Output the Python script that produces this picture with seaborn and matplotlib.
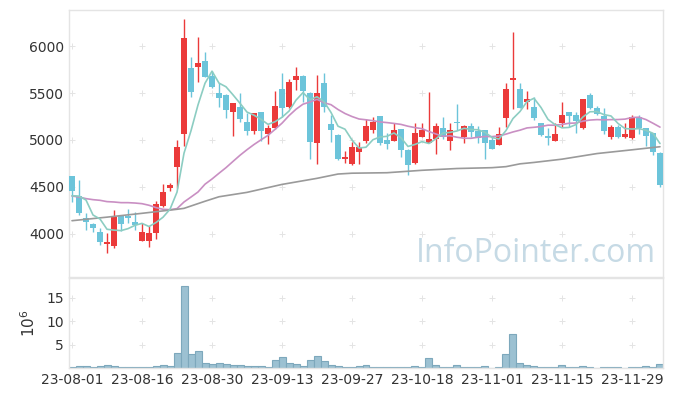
import numpy as np
import pandas as pd
import matplotlib
matplotlib.use("Agg")
import matplotlib.pyplot as plt
import seaborn as sns

# daily prices (trading days 23-08-01 .. 23-12-05)
opens = [4615, 4401, 4162, 4101, 4012, 3887, 3866, 4187, 4187, 4126,
         3923, 3923, 4002, 4297, 4490, 4714, 5064, 5770, 5784, 5845,
         5685, 5500, 5482, 5303, 5350, 5189, 5100, 5296, 5064, 5125,
         5542, 5350, 5642, 5685, 5500, 4971, 5613, 5171, 5054, 4800,
         4740, 4875, 4993, 5107, 5257, 5000, 4993, 5114, 4893, 4751,
         5036, 4971, 5007, 5125, 4993, 5196, 5036, 5150, 5100, 5107,
         5000, 4950, 5232, 5642, 5542, 5410, 5350, 5179, 5043, 4993,
         5179, 5296, 5268, 5125, 5482, 5339, 5257, 5036, 5136, 5029,
         5018, 5249, 5125, 5072, 4858]
highs = [4620, 4572, 4219, 4115, 4055, 4002, 4251, 4190, 4258, 4233,
         4115, 4080, 4347, 4526, 4543, 5000, 6291, 5891, 6099, 5938,
         5742, 5607, 5490, 5400, 5500, 5286, 5290, 5300, 5160, 5528,
         5714, 5653, 5778, 5690, 5517, 5696, 5714, 5268, 5060, 4886,
         4982, 4982, 5221, 5243, 5260, 5072, 5185, 5120, 4900, 5179,
         5185, 5514, 5179, 5249, 5179, 5385, 5160, 5185, 5150, 5110,
         5036, 5136, 5607, 6159, 5613, 5528, 5463, 5185, 5125, 5179,
         5410, 5300, 5296, 5440, 5500, 5364, 5339, 5160, 5160, 5179,
         5268, 5268, 5130, 5080, 4870]
lows = [4340, 4198, 4037, 4013, 3876, 3788, 3841, 4030, 4115, 4037,
        3915, 3852, 3937, 4280, 4458, 4483, 4939, 5457, 5624, 5670,
        5560, 5356, 5232, 5043, 5189, 5054, 5064, 4993, 4957, 5120,
        5249, 5345, 5535, 5410, 4793, 4743, 5303, 4982, 4785, 4751,
        4735, 4743, 4965, 5072, 4950, 4900, 4990, 4821, 4626, 4745,
        5030, 4965, 4850, 5007, 4893, 5107, 4965, 5036, 4965, 4793,
        4900, 4945, 5143, 5328, 5340, 5328, 5214, 5043, 4946, 4990,
        5143, 5143, 5072, 5120, 5335, 5270, 5064, 5007, 5018, 5025,
        5010, 5064, 4936, 4840, 4494]
closes = [4458, 4222, 4126, 4058, 3912, 3909, 4176, 4101, 4162, 4091,
          4012, 4008, 4315, 4444, 4519, 4925, 6091, 5517, 5824, 5677,
          5570, 5453, 5321, 5393, 5225, 5100, 5286, 5100, 5125, 5364,
          5339, 5617, 5685, 5528, 4982, 5500, 5356, 5107, 4793, 4821,
          4922, 4928, 5150, 5196, 4965, 4957, 5107, 4893, 4733, 5072,
          5107, 5007, 5150, 5036, 5107, 5182, 5150, 5089, 5018, 4971,
          4907, 5064, 5546, 5660, 5346, 5439, 5239, 5054, 5025, 5064,
          5268, 5261, 5207, 5435, 5339, 5275, 5100, 5136, 5036, 5064,
          5249, 5125, 5043, 4876, 4519]
# volume in millions
volumes = [0.3, 0.5, 0.5, 0.3, 0.5, 0.7, 0.5, 0.3, 0.3, 0.3,
           0.3, 0.3, 0.5, 0.7, 0.5, 3.3, 17.5, 2.9, 3.7, 1.15,
           0.85, 1.15, 0.9, 0.7, 0.7, 0.5, 0.5, 0.5, 0.3, 1.8,
           2.4, 1.15, 0.9, 0.5, 1.8, 2.6, 1.6, 0.7, 0.5, 0.3,
           0.3, 0.5, 0.7, 0.3, 0.3, 0.3, 0.3, 0.3, 0.3, 0.5,
           0.3, 2.2, 0.7, 0.3, 0.3, 0.7, 0.3, 0.3, 0.3, 0.5,
           0.1, 0.3, 2.9, 7.2, 1.15, 0.7, 0.5, 0.3, 0.3, 0.3,
           0.7, 0.3, 0.3, 0.5, 0.3, 0.1, 0.3, 0.3, 0.3, 0.1,
           0.3, 0.3, 0.5, 0.3, 0.9]

# moving averages before enough days are in the window
ma5_head = [4404, 4400, 4358, 4198]
ma20_head = [4401, 4390, 4373, 4362, 4355, 4341, 4337, 4330, 4330, 4326,
             4319, 4302, 4277, 4259, 4255, 4266, 4337, 4390, 4444]
# 60-day average (at these days)
ma60_days = [0, 5, 10, 15, 16, 19, 21, 25, 30, 35, 38, 40, 45, 50, 55, 60,
             62, 64, 66, 70, 75, 80, 84]
ma60_vals = [4137, 4175, 4216, 4259, 4269, 4345, 4393, 4440, 4525, 4590,
             4636, 4645, 4650, 4676, 4695, 4704, 4715, 4745, 4760, 4795,
             4855, 4895, 4928]

tick_days = [0, 10, 20, 30, 40, 50, 60, 70, 80]
tick_labels = ['23-08-01', '23-08-16', '23-08-30', '23-09-13', '23-09-27',
               '23-10-18', '23-11-01', '23-11-15', '23-11-29']

UP = '#eb3a3a'
DOWN = '#6cc4da'
FRAME = '#e4e4e4'


def plus_grid(ax, xs, ys):
    gx, gy = np.meshgrid(xs, ys)
    ax.scatter(gx.ravel(), gy.ravel(), marker='+', s=20, linewidths=0.7,
               color='#e4e4e4', zorder=0)


def style_axis(ax):
    for s in ax.spines.values():
        s.set_color(FRAME)
        s.set_linewidth(1)
    ax.tick_params(length=0, labelsize=10, colors='#333333')


def price_panel(ax, df):
    up = df['close'] >= df['open']
    for mask, col in [(up, UP), (~up, DOWN)]:
        d = df[mask]
        ax.vlines(d['day'], d['low'], d['high'], color=col, linewidth=1, zorder=2)
        body = (d['close'] - d['open']).abs().clip(lower=8)
        ax.bar(d['day'], body, bottom=d[['open', 'close']].min(axis=1),
               width=0.72, color=col, linewidth=0, zorder=3)

    close = df['close']
    ma5 = close.rolling(5).mean()
    ma5.iloc[:4] = ma5_head
    ma20 = close.rolling(20).mean()
    ma20.iloc[:19] = ma20_head
    ma = pd.DataFrame({'day': df['day'], 'ma5': ma5, 'ma20': ma20})
    sns.lineplot(data=ma, x='day', y='ma20', ax=ax, color='#c98fc3', linewidth=1.2, zorder=4)
    sns.lineplot(x=ma60_days, y=ma60_vals, ax=ax, color='#9a9a9a', linewidth=1.2, zorder=4)
    sns.lineplot(data=ma, x='day', y='ma5', ax=ax, color='#8ccdc2', linewidth=1.2, zorder=5)

    ax.set_xlim(-0.43, 84.43)
    ax.set_ylim(3535, 6390)
    yt = [4000, 4500, 5000, 5500, 6000]
    ax.set_yticks(yt)
    ax.set_xticks(tick_days)
    ax.set_xticklabels([])
    plus_grid(ax, tick_days, yt)
    ax.set_xlabel('')
    ax.set_ylabel('')
    ax.text(0.988, 0.025, 'InfoPointer.com', transform=ax.transAxes,
            ha='right', va='bottom', fontsize=23, color='#c6dae5',
            family='Open Sans', zorder=1)
    style_axis(ax)


def volume_panel(ax, df):
    sns.barplot(data=df, x='day', y='volume', native_scale=True, width=1.0,
                color='#9cc1d2', edgecolor='#7da8bc', linewidth=0.8,
                saturation=1, ax=ax, zorder=2)
    ax.set_xlim(-0.43, 84.43)
    ax.set_ylim(0, 19.2)
    yt = [5, 10, 15]
    ax.set_yticks(yt)
    ax.set_xticks(tick_days)
    ax.set_xticklabels(tick_labels)
    plus_grid(ax, tick_days, yt)
    ax.set_xlabel('')
    ax.set_ylabel('$10^6$', fontsize=11, color='#333333', labelpad=6)
    style_axis(ax)


def stock_chart():
    df = pd.DataFrame({'day': np.arange(len(closes)), 'open': opens,
                       'high': highs, 'low': lows, 'close': closes,
                       'volume': volumes})
    sns.set_style('white')
    plt.rcParams['font.family'] = ['DejaVu Sans']
    fig = plt.figure(figsize=(6.73, 3.96), dpi=100)
    ax1 = fig.add_axes([69 / 673, 1 - 277 / 396, 594 / 673, 267 / 396])
    ax2 = fig.add_axes([69 / 673, 1 - 368 / 396, 594 / 673, 90 / 396])
    price_panel(ax1, df)
    volume_panel(ax2, df)
    fig.savefig('out.png', dpi=100)


if __name__ == "__main__":
    stock_chart()
